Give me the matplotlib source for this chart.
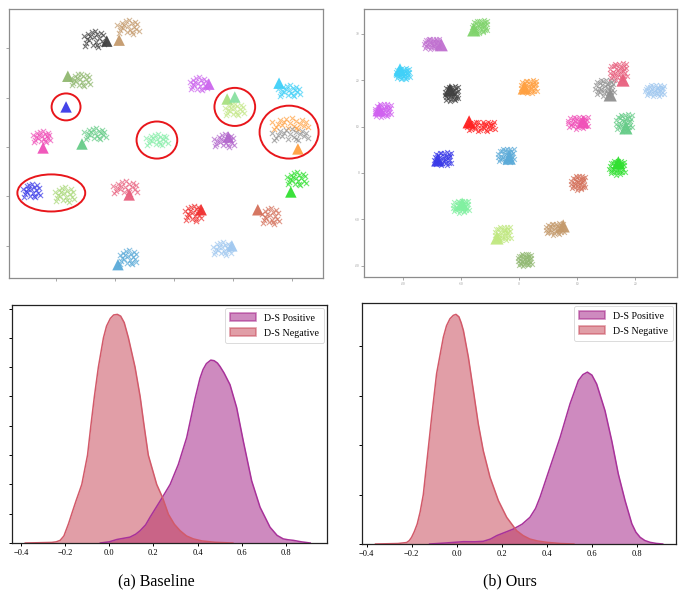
import numpy as np
import matplotlib
matplotlib.use('Agg')
import matplotlib.pyplot as plt
from matplotlib.patches import Ellipse, Patch

plt.rcParams['font.family'] = ['Liberation Serif', 'DejaVu Serif']

W, H = 681, 591

# ---------------- t-SNE panels ----------------
# shared hand-placed jitter pattern (unit offsets) for the 'x' markers
jit_u = [-0.9, -0.7, -0.5, -0.4, -0.2, -0.1, 0.0, 0.2, 0.3, 0.4, 0.5, 0.6, 0.7, 0.8, 0.9, -0.6,
         -0.3, 0.1, 0.3, -0.8, 0.6, -0.2, 0.85, -0.45, 0.15, -0.75, 0.45, -0.05, 0.65, -0.95, 0.25, -0.35]
jit_v = [0.3, -0.4, 0.6, -0.1, 0.8, -0.6, 0.2, -0.3, 0.5, -0.8, 0.1, 0.7, -0.2, 0.4, -0.5, 0.0,
         0.3, 0.9, -0.6, -0.7, -0.5, -0.9, 0.85, -0.5, 0.45, 0.7, 0.95, -0.25, 0.25, -0.1, 0.05, 0.9]

# baseline: point-cluster centres, colours, triangles (prototypes)
base_pt_col = ['#404040', '#C49A6C', '#90B870', '#3A3AE8', '#F050B8', '#66CC88', '#88EEAA',
               '#A8D878', '#E8607E', '#5AAAD8', '#CC66EE', '#C5E88A', '#40D0F8', '#FFA040',
               '#909090', '#B266CC', '#30E030', '#F03030', '#D4705A', '#A0C8F0']
base_pt_x = [-13.6, -7.8, -15.9, -24.2, -22.4, -13.4, -2.9, -18.6, -8.3, -7.8,
             4.1, 10.2, 19.5, 19.7, 19.7, 8.5, 20.7, 3.2, 16.3, 8.1]
base_pt_y = [21.8, 24.2, 13.5, -8.9, 2.0, 2.6, 1.4, -9.7, -8.3, -22.4,
             12.7, 7.5, 11.3, 4.6, 2.4, 1.2, -6.5, -13.5, -14.1, -20.6]
base_pt_w = [1.9, 2.0, 1.8, 1.6, 1.6, 2.0, 2.0, 1.8, 2.3, 1.6,
             1.6, 1.8, 2.0, 3.4, 3.4, 1.9, 1.8, 1.5, 1.6, 1.7]
base_pt_h = [1.9, 1.6, 1.5, 1.6, 1.3, 1.3, 1.3, 1.7, 1.5, 1.7,
             1.5, 1.4, 1.3, 1.3, 1.3, 1.5, 1.5, 1.8, 1.9, 1.5]

base_tri_col = ['#404040', '#C49A6C', '#90B870', '#3A3AE8', '#F050B8', '#66CC88', '#E8607E',
                '#5AAAD8', '#CC66EE', '#A8E080', '#88E0A0', '#40D0F8', '#FFA040', '#B266CC',
                '#30E030', '#F03030', '#D4705A', '#A0C8F0']
base_tri_x = [-11.4, -9.3, -18.0, -18.3, -22.2, -15.6, -7.6, -9.5, 5.9, 9.0, 10.3, 17.8, 21.0,
              9.2, 19.8, 4.6, 14.2, 9.8]
base_tri_y = [21.4, 21.6, 14.3, 8.1, -0.2, 0.6, -9.7, -23.8, 12.7, 9.7, 10.1, 12.9, -0.4,
              2.0, -9.1, -12.7, -12.7, -20.0]

# red highlight ellipses on the baseline panel
ell_x = [-18.3, -2.9, -20.8, 10.3, 19.5]
ell_y = [8.1, 1.4, -9.3, 8.1, 3.0]
ell_w = [4.9, 6.9, 11.5, 6.9, 10.0]
ell_h = [5.45, 7.5, 7.5, 7.7, 10.7]

# ours
ours_pt_col = ['#7ED36A', '#C070D0', '#40D0F8', '#D060F0', '#404040', '#FFA040', '#FF2020',
               '#3A3AE8', '#5AAAD8', '#80F0A0', '#C0E880', '#90B870', '#C49A6C', '#D4705A',
               '#30E030', '#F050B8', '#66CC88', '#909090', '#E8607E', '#A0C8F0']
ours_pt_x = [-6.7, -15.0, -20.0, -23.4, -11.6, 1.7, -6.5, -13.1, -2.2, -10.0,
             -2.8, 1.0, 6.2, 10.2, 16.9, 10.2, 18.1, 14.8, 17.1, 23.4]
ours_pt_y = [31.5, 27.8, 21.3, 13.4, 17.0, 18.5, 10.0, 3.0, 3.7, -7.3,
             -13.1, -18.8, -12.1, -2.2, 1.1, 10.8, 10.8, 18.3, 21.8, 17.7]
ours_pt_w = [1.4, 1.4, 1.3, 1.5, 1.3, 1.5, 2.6, 1.6, 1.5, 1.5,
             1.5, 1.3, 1.7, 1.3, 1.4, 1.9, 1.5, 1.8, 1.6, 1.8]
ours_pt_h = [1.4, 1.2, 1.3, 1.5, 1.7, 1.5, 1.1, 1.5, 1.6, 1.4,
             1.6, 1.4, 1.3, 1.6, 1.6, 1.4, 1.9, 1.9, 1.9, 1.3]

ours_tri_col = ['#7ED36A', '#C070D0', '#40D0F8', '#D060F0', '#404040', '#FFA040', '#FF2020',
                '#3A3AE8', '#5AAAD8', '#80F0A0', '#C0E880', '#C49A6C', '#30E030', '#F050B8',
                '#66CC88', '#909090', '#E8607E']
ours_tri_x = [-7.8, -13.4, -20.5, -24.1, -11.9, 0.9, -8.6, -14.0, -1.7, -9.8, -3.8, 7.6,
              17.1, 11.0, 18.4, 15.7, 17.9]
ours_tri_y = [30.8, 27.6, 22.2, 13.6, 17.9, 18.3, 11.0, 2.8, 3.2, -6.7, -14.0, -11.4,
              2.2, 11.0, 9.7, 16.8, 20.0]

# ---------------- density panels ----------------
a_pos_x = [-0.04, 0.0, 0.035, 0.094, 0.12, 0.14, 0.165, 0.185, 0.241, 0.276, 0.313, 0.351,
           0.389, 0.411, 0.425, 0.44, 0.46, 0.475, 0.49, 0.502, 0.52, 0.547, 0.577, 0.607,
           0.645, 0.683, 0.728, 0.76, 0.788, 0.81, 0.834, 0.87, 0.91]
a_pos_y = [0.0, 0.02, 0.06, 0.10, 0.15, 0.21, 0.31, 0.44, 0.78, 1.0, 1.34, 1.8,
           2.47, 2.81, 2.96, 3.06, 3.12, 3.11, 3.07, 3.01, 2.9, 2.70, 2.31, 1.74,
           1.06, 0.61, 0.27, 0.13, 0.07, 0.055, 0.045, 0.02, 0.0]
a_neg_x = [-0.38, -0.26, -0.24, -0.222, -0.205, -0.184, -0.165, -0.15, -0.135, -0.124, -0.098,
           -0.083, -0.067, -0.049, -0.026, -0.012, 0.005, 0.02, 0.037, 0.052, 0.068, 0.087,
           0.117, 0.14, 0.158, 0.177, 0.215, 0.241, 0.268, 0.295, 0.321, 0.35, 0.381, 0.42,
           0.48, 0.56]
a_neg_y = [0.0, 0.01, 0.02, 0.045, 0.12, 0.33, 0.55, 0.72, 0.88, 1.0, 1.5,
           2.0, 2.5, 3.0, 3.5, 3.7, 3.83, 3.89, 3.90, 3.87, 3.76, 3.5,
           3.0, 2.5, 2.0, 1.5, 1.0, 0.78, 0.49, 0.32, 0.21, 0.12, 0.07, 0.035,
           0.012, 0.0]

b_pos_x = [-0.12, -0.05, 0.03, 0.08, 0.118, 0.15, 0.178, 0.25, 0.29, 0.325, 0.35, 0.37,
           0.414, 0.459, 0.503, 0.54, 0.56, 0.58, 0.6, 0.621, 0.658, 0.688, 0.717, 0.747,
           0.777, 0.795, 0.814, 0.835, 0.858, 0.885, 0.914]
b_pos_y = [0.0, 0.02, 0.047, 0.045, 0.054, 0.1, 0.17, 0.30, 0.40, 0.54, 0.72, 0.95,
           1.55, 2.16, 2.84, 3.31, 3.43, 3.48, 3.42, 3.24, 2.70, 2.09, 1.42, 0.88,
           0.41, 0.24, 0.135, 0.07, 0.034, 0.012, 0.0]
b_neg_x = [-0.36, -0.26, -0.222, -0.21, -0.2, -0.188, -0.175, -0.162, -0.148, -0.13, -0.111,
           -0.089, -0.059, -0.045, -0.03, -0.015, -0.003, 0.01, 0.02, 0.03, 0.052, 0.074,
           0.096, 0.118, 0.148, 0.185, 0.222, 0.266, 0.295, 0.325, 0.36, 0.4, 0.46, 0.52]
b_neg_y = [0.0, 0.01, 0.03, 0.07, 0.135, 0.25, 0.405, 0.65, 1.0, 1.76, 2.57,
           3.45, 4.19, 4.42, 4.56, 4.63, 4.65, 4.6, 4.48, 4.32, 3.78, 3.11,
           2.43, 1.89, 1.35, 0.88, 0.54, 0.27, 0.17, 0.10, 0.06, 0.034, 0.01, 0.0]

pos_fill, pos_edge = '#9F1781', '#A8329A'
neg_fill, neg_edge = '#C53F51', '#D25A6A'


def px_rect(l, t, r, b):
    return [l / W, 1 - b / H, (r - l) / W, (b - t) / H]


fig = plt.figure(figsize=(W / 100, H / 100), dpi=100)
fig.patch.set_facecolor('white')


def tsne_panel(rect, xlim, ylim, pcol, px, py, pw, ph, tcol, tx, ty, npts, psize, tsize, xt, yt, labels):
    ax = fig.add_axes(rect)
    for c, x0, y0, w, h in zip(pcol, px, py, pw, ph):
        xs = [x0 + u * w for u in jit_u[:npts]]
        ys = [y0 + v * h for v in jit_v[:npts]]
        ax.scatter(xs, ys, marker='x', s=psize, color=c, alpha=0.7, linewidths=0.8)
    ax.scatter(tx, ty, marker='^', s=tsize, c=tcol, alpha=0.95, linewidths=0)
    ax.set_xlim(*xlim)
    ax.set_ylim(*ylim)
    ax.set_xticks(xt)
    ax.set_yticks(yt)
    if labels:
        ax.set_xticklabels([str(v) for v in xt], fontsize=2.5, color='#999999')
        ax.set_yticklabels([str(v) for v in yt], fontsize=2.5, color='#999999')
    else:
        ax.set_xticklabels([])
        ax.set_yticklabels([])
    ax.tick_params(length=2, width=0.6, color='#999999', pad=1.5)
    for s in ax.spines.values():
        s.set_color('#8c8c8c')
        s.set_linewidth(0.9)
    return ax


ax1 = tsne_panel(px_rect(9, 9, 323, 278), (-27.97, 25.25), (-26.5, 27.9),
                 base_pt_col, base_pt_x, base_pt_y, base_pt_w, base_pt_h,
                 base_tri_col, base_tri_x, base_tri_y, 20, 14, 68,
                 [-20, -10, 0, 10, 20], [-20, -10, 0, 10, 20], False)
for x0, y0, w, h in zip(ell_x, ell_y, ell_w, ell_h):
    ax1.add_patch(Ellipse((x0, y0), w, h, fill=False, edgecolor='#E8161B', linewidth=1.4))

ax2 = tsne_panel(px_rect(364, 9, 677, 277), (-26.7, 27.2), (-22.4, 35.3),
                 ours_pt_col, ours_pt_x, ours_pt_y, ours_pt_w, ours_pt_h,
                 ours_tri_col, ours_tri_x, ours_tri_y, 32, 12, 90,
                 [-20, -10, 0, 10, 20], [-20, -10, 0, 10, 20, 30], True)


def kde_panel(rect, xlim, ylim, yt, px, py, nx, ny, caption, cap_x):
    ax = fig.add_axes(rect)
    ax.fill_between(px, py, color=pos_fill, alpha=0.5, linewidth=0)
    ax.fill_between(nx, ny, color=neg_fill, alpha=0.5, linewidth=0)
    ax.plot(px, py, color=pos_edge, linewidth=1.1)
    ax.plot(nx, ny, color=neg_edge, linewidth=1.1)
    ax.set_xlim(*xlim)
    ax.set_ylim(*ylim)
    ax.set_xticks([-0.4, -0.2, 0.0, 0.2, 0.4, 0.6, 0.8])
    ax.set_xticklabels(['\u22120.4', '\u22120.2', '0.0', '0.2', '0.4', '0.6', '0.8'], fontsize=6)
    ax.set_yticks(yt)
    ax.set_yticklabels([])
    ax.tick_params(length=2.5, width=0.7, pad=2)
    for s in ax.spines.values():
        s.set_color('#222222')
        s.set_linewidth(0.9)
    handles = [Patch(facecolor=pos_fill, alpha=0.5, edgecolor=pos_fill, linewidth=1.2, label='D-S Positive'),
               Patch(facecolor=neg_fill, alpha=0.5, edgecolor=neg_fill, linewidth=1.2, label='D-S Negative')]
    leg = ax.legend(handles=handles, loc='upper right', fontsize=7.2, frameon=True,
                    handlelength=2.6, handleheight=0.9, borderpad=0.5, labelspacing=0.55,
                    borderaxespad=0.3)
    leg.get_frame().set_edgecolor('#cccccc')
    leg.get_frame().set_linewidth(0.6)
    fig.text(cap_x / W, 1 - 581 / H, caption, ha='center', va='center', fontsize=11.5)
    return ax


kde_panel(px_rect(12, 305, 327, 543), (-0.44, 0.986), (0, 4.06),
          [0, 0.5, 1.0, 1.5, 2.0, 2.5, 3.0, 3.5, 4.0],
          a_pos_x, a_pos_y, a_neg_x, a_neg_y, '(a) Baseline', 156)
kde_panel(px_rect(362, 303, 676, 544), (-0.42, 0.973), (0, 4.88),
          [0, 1, 2, 3, 4],
          b_pos_x, b_pos_y, b_neg_x, b_neg_y, '(b) Ours', 510)

plt.savefig('out.png', dpi=100, facecolor='white')
print('saved out.png')
